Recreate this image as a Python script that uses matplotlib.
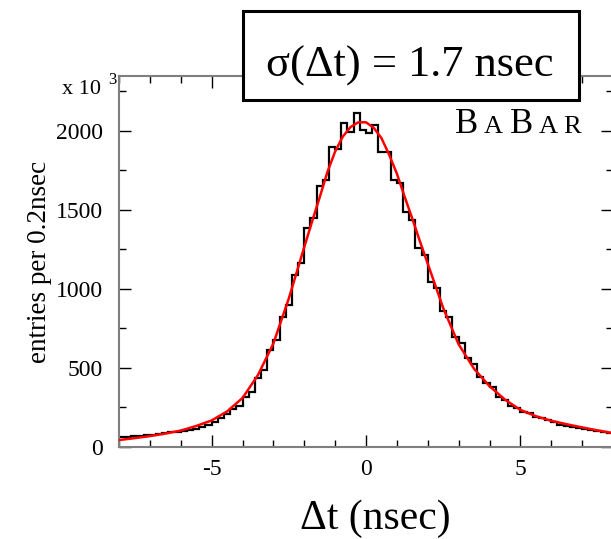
import matplotlib

matplotlib.use("Agg")
import matplotlib.pyplot as plt
import numpy as np
from matplotlib.patches import Rectangle
from matplotlib.ticker import MultipleLocator

# bin edges: 0.2 nsec bins from -8 to 8
bin_edges = np.round(np.arange(-8.0, 8.0001, 0.2), 1)

# entries per bin
counts = [
    63, 65, 67, 71, 74, 78, 81, 87, 92, 97,
    102, 109, 116, 128, 139, 160, 181, 209, 238, 259,
    318, 350, 435, 487, 614, 677, 825, 899, 1089, 1167,
    1384, 1447, 1652, 1690, 1901, 1884, 2049, 1992, 2112, 2006,
    1985, 2038, 1869, 1869, 1690, 1669, 1486, 1437, 1262, 1212,
    1046, 1004, 861, 821, 698, 656, 561, 527, 445, 408,
    378, 319, 298, 260, 245, 224, 214, 189, 182, 171,
    161, 140, 135, 124, 122, 112, 108, 101, 95, 91,
]

# fitted resolution curve
fit_t = [-8, -7.5, -7, -6.5, -6, -5.5, -5, -4.5, -4, -3.5, -3, -2.5,
         -2, -1.75, -1.5, -1.25, -1, -0.75, -0.5, -0.25, 0, 0.25, 0.5,
         0.75, 1, 1.25, 1.5, 1.75, 2, 2.5, 3, 3.5, 4, 4.5, 5, 5.5, 6,
         6.5, 7, 7.5, 8]
fit_val = [44, 56, 69, 85, 104, 133, 168, 225, 310, 455, 655, 940,
           1265, 1425, 1580, 1740, 1870, 1965, 2025, 2055, 2055, 2020, 1955,
           1850, 1730, 1585, 1445, 1300, 1160, 880, 650, 495, 385, 300, 235, 195, 166,
           144, 124, 105, 88]

W, H = 611, 539
plt.rcParams["font.family"] = ["Liberation Serif", "DejaVu Serif"]
plt.rcParams["axes.unicode_minus"] = False

fig = plt.figure(figsize=(W / 100, H / 100), dpi=100)
ax = fig.add_axes([119 / W, (H - 447) / H, (613 - 119) / W, (447 - 76) / H])

ax.stairs(counts, bin_edges, baseline=None, color="black", linewidth=1.6, zorder=2)
ax.plot(fit_t, fit_val, color="#ff0000", linewidth=1.8, zorder=3)

ax.set_xlim(-8, 8)
ax.set_ylim(0, 2348)
ax.set_xticks([-5, 0, 5])
ax.xaxis.set_minor_locator(MultipleLocator(1))
ax.set_yticks([0, 500, 1000, 1500, 2000])
ax.yaxis.set_minor_locator(MultipleLocator(250))
ax.tick_params(which="both", direction="in", top=True, right=True,
               color="black", width=1.0, labelsize=17)
ax.tick_params(which="major", length=8.6)
ax.tick_params(which="minor", length=5)
ax.tick_params(axis="x", pad=8.5)
ax.tick_params(axis="y", pad=11.5)
for s in ax.spines.values():
    s.set_color("#7f7f7f")
    s.set_linewidth(1.5)

# y label and multiplier
fig.text(40 / W, 1 - 262 / H, "entries per 0.2nsec", rotation=90,
         ha="center", va="center", fontsize=19.5)
fig.text(62 / W, 1 - 94 / H, "x 10", ha="left", va="baseline", fontsize=16)
fig.text(108 / W, 1 - 84 / H, "3", ha="left", va="baseline", fontsize=12)

# x label
fig.text(375 / W, 1 - 529 / H, "\u0394t (nsec)", ha="center", va="baseline",
         fontsize=30)

# resolution box
box = Rectangle((243 / W, 1 - 100 / H), (579 - 243) / W, (100 - 11) / H,
                transform=fig.transFigure, facecolor="white", edgecolor="black",
                linewidth=2.2, zorder=5)
fig.patches.append(box)
fig.text(410 / W, 1 - 77 / H, "\u03c3(\u0394t) = 1.7 nsec", ha="center",
         va="baseline", fontsize=32, zorder=6)

# experiment tag in small caps
babar = [("B", 455, 25), ("A", 484, 19), ("B", 510, 25), ("A", 539, 19), ("R", 563, 19)]
for letter, xpos, size in babar:
    fig.text(xpos / W, 1 - 133 / H, letter, ha="left", va="baseline", fontsize=size)

fig.savefig("out.png", dpi=100)
